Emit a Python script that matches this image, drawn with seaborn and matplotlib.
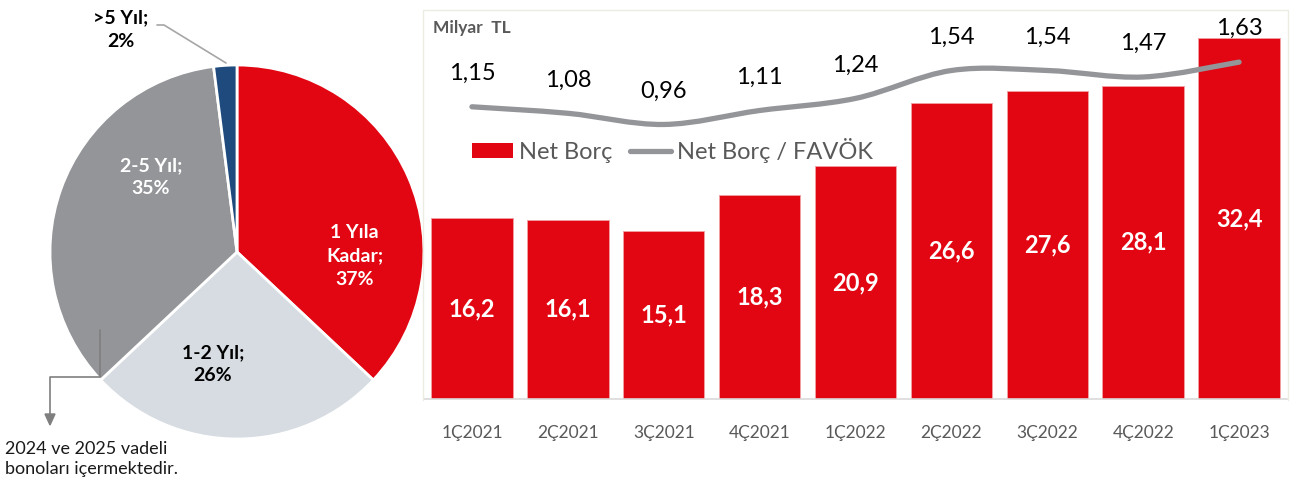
import matplotlib
matplotlib.use("Agg")
import matplotlib.pyplot as plt
from matplotlib.patches import Patch, PathPatch
from matplotlib.lines import Line2D
from matplotlib.path import Path
import numpy as np
import pandas as pd
import seaborn as sns

sns.set_theme(style="white")
plt.rcParams['font.family'] = ['Lato', 'DejaVu Sans']

# data
pie_labels = ['1 Yıla\nKadar;\n37%', '1-2 Yıl;\n26%', '2-5 Yıl;\n35%', '>5 Yıl;\n2%']
pie_shares = [37, 26, 35, 2]
pie_colors = ['#E20613', '#D6DCE1', '#939598', '#1F4A7E']

quarters = ['1Ç2021', '2Ç2021', '3Ç2021', '4Ç2021', '1Ç2022',
            '2Ç2022', '3Ç2022', '4Ç2022', '1Ç2023']
net_borc = [16.2, 16.1, 15.1, 18.3, 20.9, 26.6, 27.6, 28.1, 32.4]
borc_favok = [1.15, 1.08, 0.96, 1.11, 1.24, 1.54, 1.54, 1.47, 1.63]

W, H = 1306, 484
fig = plt.figure(figsize=(W / 100, H / 100), dpi=100)


def fx(px):
    return px / W


def fy(py):
    return 1 - py / H


# ---------------- pie ----------------
axp = fig.add_axes([fx(50), fy(439), fx(374), 374 / H])
wedges, _ = axp.pie(pie_shares, colors=pie_colors, startangle=90, counterclock=False,
                    radius=1.0, wedgeprops=dict(edgecolor='white', linewidth=2))
axp.set_xlim(-1, 1)
axp.set_ylim(-1, 1)
axp.set_aspect('equal')
axp.axis('off')

lab_pos = [(0.63, -0.02), (-0.13, -0.60), (-0.46, 0.40), (-0.62, 1.19)]
lab_col = ['white', 'black', 'white', 'black']
for txt, (x, y), c in zip(pie_labels, lab_pos, lab_col):
    axp.text(x, y, txt, ha='center', va='center', color=c, fontsize=14,
             fontweight='bold', linespacing=1.45, clip_on=False)

# leader line for >5 Yıl
fig.add_artist(Line2D([fx(157), fx(164), fx(226)], [fy(25), fy(25), fy(63)],
                      color='#A6A6A6', lw=1.2))
# annotation arrow
fig.add_artist(Line2D([fx(100), fx(100), fx(50), fx(50)],
                      [fy(330), fy(377), fy(377), fy(418)], color='#7F7F7F', lw=1.2))
fig.add_artist(plt.Polygon([[fx(45), fy(414)], [fx(55), fy(414)], [fx(50), fy(425)]],
                           closed=True, color='#7F7F7F', transform=fig.transFigure))
fig.text(fx(5), fy(459), '2024 ve 2025 vadeli\nbonoları içermektedir.',
         ha='left', va='center', fontsize=13, color='#1A1A1A', linespacing=1.3)

# ---------------- bar + line ----------------
fig.add_artist(Line2D([fx(423), fx(423), fx(1288), fx(1288)],
                      [fy(400), fy(10), fy(10), fy(400)], color='#ECECE2', lw=1))

ax = fig.add_axes([fx(424), fy(399), fx(1287 - 424), (399 - 10) / H])
df = pd.DataFrame({'q': quarters, 'nb': net_borc, 'r': borc_favok})
sns.barplot(data=df, x='q', y='nb', color='#E20613', saturation=1, width=0.85, ax=ax)
for p in ax.patches:
    p.set_edgecolor('#F2A0A4')
    p.set_linewidth(0.6)
ax.set_ylim(0, 34.9)
ax.set_xlim(-0.5, len(quarters) - 0.5)
ax.set_xlabel('')
ax.set_ylabel('')
ax.set_yticks([])
for s in ['top', 'right', 'left']:
    ax.spines[s].set_visible(False)
ax.spines['bottom'].set_color('#D9D9D9')
ax.spines['bottom'].set_linewidth(1.2)
ax.tick_params(axis='x', which='major', length=0, pad=19, labelsize=12.5, labelcolor='#595959')
ax.set_xticks(np.arange(-0.5, len(quarters), 1.0), minor=True)
ax.tick_params(axis='x', which='minor', length=6, color='#D9D9D9', width=1.2)

for i, v in enumerate(net_borc):
    ax.text(i, v / 2, f'{v:.1f}'.replace('.', ','), ha='center', va='center',
            color='white', fontsize=17, fontweight='bold')

ax.text(0.011, 0.955, 'Milyar  TL', transform=ax.transAxes, ha='left', va='center',
        fontsize=12.5, fontweight='bold', color='#595959')

ax2 = ax.twinx()
ax2.set_ylim(-1.99, 2.19)
ax2.axis('off')

# smooth line (Catmull-Rom through data points)
xs = np.arange(len(borc_favok), dtype=float)
ys = np.array(borc_favok)
verts = [(xs[0], ys[0])]
codes = [Path.MOVETO]
for i in range(len(xs) - 1):
    p0 = np.array([xs[max(i - 1, 0)], ys[max(i - 1, 0)]])
    p1 = np.array([xs[i], ys[i]])
    p2 = np.array([xs[i + 1], ys[i + 1]])
    p3 = np.array([xs[min(i + 2, len(xs) - 1)], ys[min(i + 2, len(xs) - 1)]])
    c1 = p1 + (p2 - p0) / 6
    c2 = p2 - (p3 - p1) / 6
    verts += [tuple(c1), tuple(c2), tuple(p2)]
    codes += [Path.CURVE4] * 3
ax2.add_patch(PathPatch(Path(verts, codes), fill=False, edgecolor='#939598',
                        lw=3.8, capstyle='round'))
for x, y in zip(xs, ys):
    ax2.annotate(f'{y:.2f}'.replace('.', ','), (x, y), xytext=(0, 24),
                 textcoords='offset points', ha='center', va='center',
                 fontsize=17, color='black')

handles = [Patch(facecolor='#E20613', edgecolor='none'),
           Line2D([0], [0], color='#939598', lw=3.8)]
ax.legend(handles, ['Net Borç', 'Net Borç / FAVÖK'], loc='center',
          bbox_to_anchor=(0.288, 0.64), ncol=2, frameon=False, fontsize=17,
          labelcolor='#595959', handlelength=1.75, handleheight=0.6,
          handletextpad=0.25, columnspacing=0.75)

fig.savefig('out.png', dpi=100)
